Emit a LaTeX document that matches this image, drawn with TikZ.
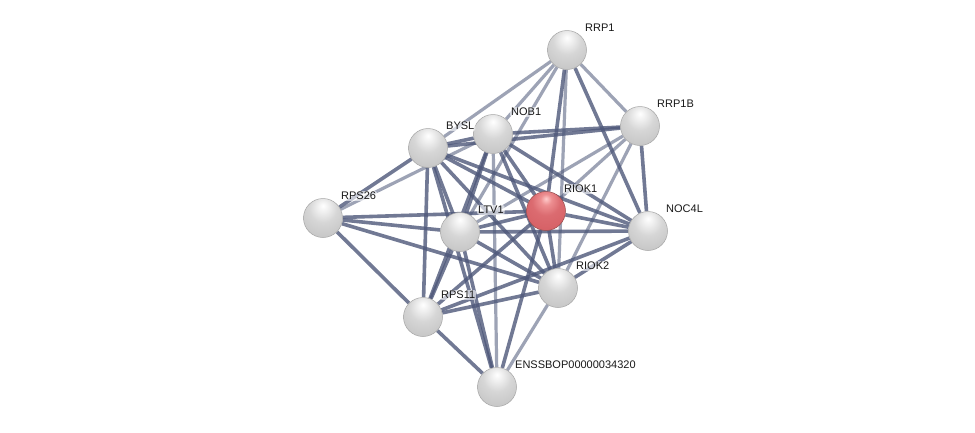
\documentclass[tikz,border=0pt]{standalone}
\usepackage{fontspec}
\setmainfont{Liberation Sans}
\usetikzlibrary{backgrounds}
\definecolor{edgec}{RGB}{78,88,122}
\pgfdeclareradialshading{graysph}{\pgfpoint{0bp}{16bp}}{%
  rgb(0bp)=(1,1,1);
  rgb(7bp)=(0.94,0.94,0.94);
  rgb(18bp)=(0.84,0.84,0.84);
  rgb(34bp)=(0.78,0.78,0.78);
  rgb(46bp)=(0.70,0.70,0.70);
  rgb(54bp)=(0.58,0.58,0.58);
  rgb(64bp)=(0.45,0.45,0.45);
  rgb(80bp)=(0.45,0.45,0.45)}
\pgfdeclareradialshading{redsph}{\pgfpoint{0bp}{16bp}}{%
  rgb(0bp)=(1,0.80,0.80);
  rgb(7bp)=(0.93,0.56,0.57);
  rgb(18bp)=(0.86,0.42,0.44);
  rgb(34bp)=(0.84,0.38,0.40);
  rgb(46bp)=(0.76,0.28,0.31);
  rgb(54bp)=(0.64,0.19,0.23);
  rgb(64bp)=(0.50,0.11,0.15);
  rgb(80bp)=(0.50,0.11,0.15)}
\tikzset{
  prot/.style={circle,minimum size=39pt,inner sep=0pt,shading=graysph,draw=gray!70,line width=0.5pt},
  protred/.style={prot,shading=redsph,draw=red!40!black!70},
  lab/.style={anchor=west,inner sep=1pt,font=\fontsize{11}{13}\selectfont,text=black!90,fill=white,fill opacity=0.6,text opacity=1,rounded corners=2pt},
  e/.style={draw=edgec,line width=3.6pt,opacity=0.8},
  ew/.style={draw=edgec,line width=3.2pt,opacity=0.55},
}
\begin{document}
\begin{tikzpicture}[x=1pt,y=-1pt]
\useasboundingbox (0,0) rectangle (975,432);
\node[prot] (RRP1) at (567,50) {};
\node[prot] (RRP1B) at (640,126) {};
\node[prot] (NOB1) at (493,134) {};
\node[prot] (BYSL) at (428,148) {};
\node[prot] (RPS26) at (323,218) {};
\node[prot] (LTV1) at (460,232) {};
\node[protred] (RIOK1) at (546,211) {};
\node[prot] (NOC4L) at (648,231) {};
\node[prot] (RIOK2) at (558,288) {};
\node[prot] (RPS11) at (423,317) {};
\node[prot] (ENSS) at (497,387) {};
\begin{pgfonlayer}{background}
\fill[white] (0,0) rectangle (975,432);
% RRP1
\draw[ew] (RRP1) -- (BYSL);
\draw[ew] (RRP1) -- (NOB1);
\draw[ew] (RRP1) -- (LTV1);
\draw[e] (RRP1) -- (RIOK1);
\draw[ew] (RRP1) -- (RIOK2);
\draw[e] (RRP1) -- (NOC4L);
\draw[ew] (RRP1) -- (RRP1B);
% RRP1B
\draw[e] (RRP1B) -- (BYSL);
\draw[e] (RRP1B) -- (NOB1);
\draw[ew] (RRP1B) -- (RIOK1);
\draw[ew] (RRP1B) -- (LTV1);
\draw[e] (RRP1B) -- (NOC4L);
\draw[ew] (RRP1B) -- (RIOK2);
% NOB1
\draw[e] (NOB1) -- (BYSL);
\draw[ew] (NOB1) -- (RPS26);
\draw[e] (NOB1) -- (LTV1);
\draw[e] (NOB1) -- (RIOK1);
\draw[e] (NOB1) -- (RIOK2);
\draw[e] (NOB1) -- (NOC4L);
\draw[e] (NOB1) -- (RPS11);
\draw[ew] (NOB1) -- (ENSS);
% BYSL
\draw[e] (BYSL) -- (RPS26);
\draw[e] (BYSL) -- (LTV1);
\draw[e] (BYSL) -- (RIOK1);
\draw[e] (BYSL) -- (RIOK2);
\draw[e] (BYSL) -- (NOC4L);
\draw[e] (BYSL) -- (RPS11);
\draw[e] (BYSL) -- (ENSS);
% RPS26
\draw[e] (RPS26) -- (LTV1);
\draw[e] (RPS26) -- (RIOK1);
\draw[e] (RPS26) -- (RIOK2);
\draw[e] (RPS26) -- (RPS11);
% LTV1
\draw[e] (LTV1) -- (RIOK1);
\draw[e] (LTV1) -- (NOC4L);
\draw[e] (LTV1) -- (RIOK2);
\draw[e] (LTV1) -- (RPS11);
\draw[e] (LTV1) -- (ENSS);
% RIOK1
\draw[e] (RIOK1) -- (NOC4L);
\draw[e] (RIOK1) -- (RIOK2);
\draw[e] (RIOK1) -- (RPS11);
\draw[e] (RIOK1) -- (ENSS);
% NOC4L
\draw[e] (NOC4L) -- (RIOK2);
\draw[e] (NOC4L) -- (RPS11);
% RIOK2
\draw[e] (RIOK2) -- (RPS11);
\draw[ew] (RIOK2) -- (ENSS);
% RPS11
\draw[e] (RPS11) -- (ENSS);
\end{pgfonlayer}
\node[lab] (tRRP1) at (584,28) {RRP1};
\node[lab] (tRRP1B) at (656,104) {RRP1B};
\node[lab] (tNOB1) at (510,112) {NOB1};
\node[lab] (tBYSL) at (445,126) {BYSL};
\node[lab] (tRPS26) at (340,196) {RPS26};
\node[lab] (tLTV1) at (477,210) {LTV1};
\node[lab] (tRIOK1) at (563,189) {RIOK1};
\node[lab] (tNOC4L) at (665,209) {NOC4L};
\node[lab] (tRIOK2) at (575,266) {RIOK2};
\node[lab] (tRPS11) at (440,295) {RPS11};
\node[lab] (tENSS) at (514,365) {ENSSBOP00000034320};
\end{tikzpicture}
\end{document}
